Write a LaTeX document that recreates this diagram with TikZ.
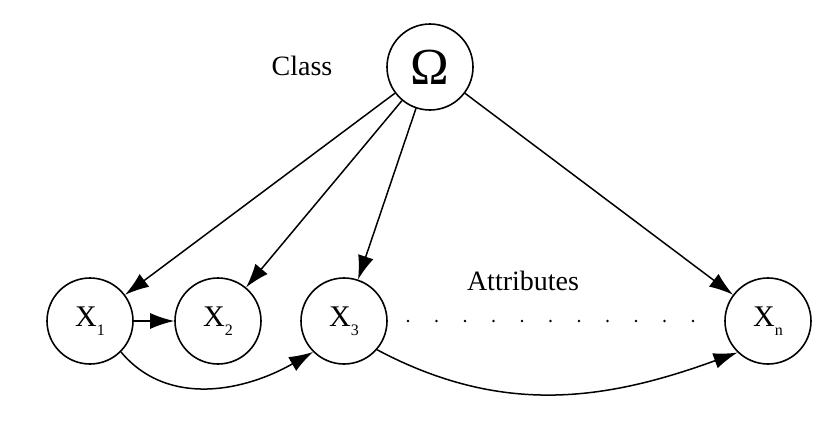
\documentclass[tikz,border=0pt]{standalone}
\usepackage{fontspec}
\setmainfont{Liberation Serif}
\usetikzlibrary{arrows.meta}
\newcommand{\subx}[1]{X\raisebox{-9pt}{\fontsize{16}{17}\selectfont #1}}
\begin{document}
\begin{tikzpicture}[x=1pt,y=-1pt,
  var/.style={circle,draw,line width=1.6pt,minimum size=86pt,inner sep=0pt,font=\fontsize{30}{32}\selectfont},
  arr/.style={line width=1.5pt,-{Latex[length=24pt,width=16pt]}},
  lbl/.style={font=\fontsize{28}{30}\selectfont}]
\useasboundingbox (0,0) rectangle (833,426);
\node[var] (O) at (430,67) {\fontsize{52}{54}\selectfont Ω};
\node[var] (X1) at (90,321) {\subx{1}};
\node[var] (X2) at (218,321) {\subx{2}};
\node[var] (X3) at (344,321) {\subx{3}};
\node[var] (Xn) at (768,321) {\subx{n}};
\node[lbl] (cls) at (302,66) {Class};
\node[lbl] (att) at (523,281) {Attributes};
\draw[arr] (O) -- (X1);
\draw[arr] (O) -- (X2);
\draw[arr] (O) -- (X3);
\draw[arr] (O) -- (Xn);
\draw[arr] (X1) -- (X2);
\draw[arr] (X1.-45) to[out=-50,in=210] (X3.225);
\draw[arr] (X3.-41) to[out=-28,in=200] (Xn.-134);
\foreach \i in {0,...,10} \fill (408+28.5*\i,321) circle (1.4pt);
\end{tikzpicture}
\end{document}
